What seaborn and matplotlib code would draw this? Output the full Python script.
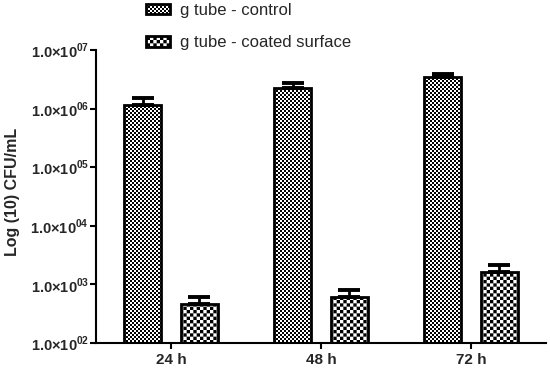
import warnings
import numpy as np
import pandas as pd
import matplotlib
matplotlib.use("Agg")
import matplotlib.pyplot as plt
import matplotlib.hatch as mhatch
from matplotlib.patches import Patch
from matplotlib.ticker import FixedLocator, FuncFormatter
import seaborn as sns

warnings.filterwarnings("ignore", message="hatch must consist")

times = ["24 h", "48 h", "72 h"]
groups = ["g tube - control", "g tube - coated surface"]
control = [1.15e6, 2.22e6, 3.50e6]
control_err = [0.38e6, 0.55e6, 0.35e6]
coated = [463, 603, 1630]
coated_err = [140, 200, 510]

FINE = "c" * 25     # 50 cells per inch -> 2 px squares
COARSE = "c" * 15   # 30 cells per inch -> ~3.3 px squares


# checkerboard hatch, 'c' repeated sets the number of cells
class CheckerHatch(mhatch.HatchPatternBase):
    def __init__(self, hatch, density):
        self.n = hatch.count("c") * 2
        self.num_vertices = (self.n * self.n // 2) * 5 if self.n else 0
        self.filled = True

    def set_vertices_and_codes(self, vertices, codes):
        n = self.n
        k = 0
        for i in range(n):
            for j in range(n):
                if (i + j) % 2:
                    continue
                x0, y0 = i / n, j / n
                x1, y1 = (i + 1) / n, (j + 1) / n
                vertices[k:k + 5] = [[x0, y0], [x1, y0], [x1, y1], [x0, y1], [x0, y0]]
                codes[k:k + 5] = [mhatch.Path.MOVETO, mhatch.Path.LINETO,
                                  mhatch.Path.LINETO, mhatch.Path.LINETO,
                                  mhatch.Path.CLOSEPOLY]
                k += 5


mhatch._hatch_types.append(CheckerHatch)

sns.set_style("ticks")
plt.rcParams["font.family"] = ["Liberation Sans", "DejaVu Sans"]
plt.rcParams["mathtext.fontset"] = "custom"
plt.rcParams["mathtext.rm"] = "Liberation Sans:bold"
plt.rcParams["mathtext.bf"] = "Liberation Sans:bold"
plt.rcParams["hatch.linewidth"] = 0.0
plt.rcParams["hatch.color"] = "black"

df = pd.DataFrame({
    "time": times * 2,
    "group": [groups[0]] * 3 + [groups[1]] * 3,
    "value": control + coated,
})

fig = plt.figure(figsize=(5.5, 3.69), dpi=100)
ax = fig.add_axes([96 / 550, 1 - 343 / 369, 450 / 550, 293 / 369])

sns.barplot(data=df, x="time", y="value", hue="group", hue_order=groups,
            palette=["white", "white"], edgecolor="black", linewidth=2,
            width=0.75, gap=0.34, errorbar=None, legend=False, ax=ax)
ax.set_yscale("log")

hatches = [FINE, COARSE]
errs = [control_err, coated_err]
for cont, h, err in zip(ax.containers, hatches, errs):
    xs, ys = [], []
    for bar in cont:
        bar.set_hatch(h)
        xs.append(bar.get_x() + bar.get_width() / 2)
        ys.append(bar.get_height())
    ax.errorbar(xs, ys, yerr=[np.zeros(len(err)), err], fmt="none",
                ecolor="black", elinewidth=2, capsize=8, capthick=2.8,
                zorder=1)

ax.set_ylim(1e2, 1e7)
ax.set_xlim(-0.5, 2.5)
ax.yaxis.set_major_locator(FixedLocator([1e2, 1e3, 1e4, 1e5, 1e6, 1e7]))
ax.yaxis.set_minor_locator(FixedLocator([]))
ax.yaxis.set_major_formatter(FuncFormatter(
    lambda v, p: "1.0×10$^{%02d}$" % int(round(np.log10(v)))))

for s in ["top", "right"]:
    ax.spines[s].set_visible(False)
for s in ["left", "bottom"]:
    ax.spines[s].set_linewidth(1.5)
    ax.spines[s].set_color("black")

ax.tick_params(axis="y", length=4, width=1.5, pad=1, labelsize=10.5,
               color="black")
ax.tick_params(axis="x", length=4, width=1.5, pad=3.5, labelsize=11,
               color="black")
for lab in ax.get_xticklabels() + ax.get_yticklabels():
    lab.set_fontweight("bold")

ax.set_xlabel("")
ax.set_ylabel("Log (10) CFU/mL", fontsize=11.5, fontweight="bold")
ax.yaxis.set_label_coords(-0.168, 0.515)

handles = [Patch(facecolor="white", edgecolor="black", linewidth=2, hatch=FINE),
           Patch(facecolor="white", edgecolor="black", linewidth=2, hatch=COARSE)]
fig.legend(handles=handles, labels=groups, loc="upper left",
           bbox_to_anchor=(146 / 550, 1 - 3 / 369), frameon=False,
           fontsize=12, handlelength=1.45, handleheight=0.6,
           handletextpad=0.6, labelspacing=1.05, borderpad=0,
           borderaxespad=0)

fig.savefig("out.png", dpi=100)
